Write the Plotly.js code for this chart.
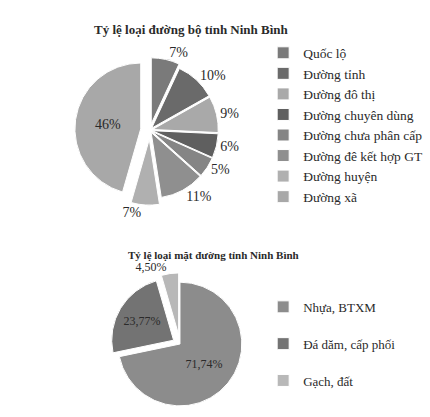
<!DOCTYPE html>
<html>
<head>
<meta charset="utf-8">
<script src="https://cdn.plot.ly/plotly-3.0.1.min.js"></script>
<style>html,body{margin:0;padding:0;background:#fff;}#chart{width:430px;height:417px;}</style>
</head>
<body>
<div id="chart"></div>
<script>
// Top chart: road types
const roadLabels = ["Quốc lộ", "Đường tỉnh", "Đường đô thị", "Đường chuyên dùng", "Đường chưa phân cấp", "Đường đê kết hợp GT", "Đường huyện", "Đường xã"];
const roadValues = [7, 10, 9, 6, 5, 11, 7, 46];
// Bottom chart: surface types
const surfaceLabels = ["Nhựa, BTXM", "Đá dăm, cấp phối", "Gạch, đất"];
const surfaceValues = [71.74, 23.77, 4.50];

const roadTitle = "Tỷ lệ loại đường bộ tỉnh Ninh Bình";
const surfaceTitle = "Tỷ lệ loại mặt đường tỉnh Ninh Bình";

const serif = "Liberation Serif, serif";

const roadPie = {
  type: "pie",
  labels: roadLabels,
  values: roadValues,
  sort: false,
  direction: "clockwise",
  rotation: 0,
  pull: [0.1, 0.04, 0.04, 0.04, 0.04, 0.04, 0.14, 0.14],
  marker: {colors: ["#7a7a7a", "#6a6a6a", "#a9a9a9", "#5f5f5f", "#858585", "#8f8f8f", "#b0b0b0", "#a8a8a8"],
           line: {color: "#ffffff", width: 1}},
  texttemplate: "%{value}%",
  textposition: ["outside","outside","outside","outside","outside","outside","outside","inside"],
  textfont: {family: serif, size: 14, color: "#2a2a2a"},
  outsidetextfont: {family: serif, size: 14, color: "#2a2a2a"},
  insidetextfont: {family: serif, size: 14, color: "#2a2a2a"},
  domain: {x: [0.174, 0.523], y: [0.508, 0.868]},
  legend: "legend",
  hoverinfo: "label+percent"
};

const surfacePie = {
  type: "pie",
  labels: surfaceLabels.map(s => s + "<br> "),
  values: surfaceValues,
  sort: false,
  direction: "clockwise",
  rotation: 0,
  pull: [0, 0.12, 0.15],
  marker: {colors: ["#8c8c8c", "#737373", "#b8b8b8"], line: {color: "#ffffff", width: 1}},
  texttemplate: "%{value:.2f}%",
  textposition: ["inside", "inside", "outside"],
  textfont: {family: serif, size: 12, color: "#2a2a2a"},
  insidetextfont: {family: serif, size: 12, color: "#2a2a2a"},
  outsidetextfont: {family: serif, size: 12, color: "#2a2a2a"},
  domain: {x: [0.253, 0.584], y: [0.0, 0.35]},
  legend: "legend2",
  hoverinfo: "label+percent"
};

const layout = {
  width: 430, height: 417,
  margin: {l: 0, r: 0, t: 0, b: 0, autoexpand: false},
  paper_bgcolor: "#fff",
  separators: ",.",
  font: {family: serif, color: "#2a2a2a"},
  showlegend: true,
  legend: {x: 0.612, y: 0.91, xanchor: "left", yanchor: "top",
           font: {family: serif, size: 13.5, color: "#2a2a2a"}, bgcolor: "rgba(0,0,0,0)"},
  legend2: {x: 0.612, y: 0.30, xanchor: "left", yanchor: "top", valign: "top",
            font: {family: serif, size: 13, color: "#2a2a2a"}, bgcolor: "rgba(0,0,0,0)"},
  annotations: [
    {text: "<b>" + roadTitle + "</b>", x: 0.445, y: 0.952, xref: "paper", yref: "paper",
     showarrow: false, font: {family: serif, size: 13, color: "#2a2a2a"}},
    {text: "<b>" + surfaceTitle + "</b>", x: 0.496, y: 0.389, xref: "paper", yref: "paper",
     showarrow: false, font: {family: serif, size: 11, color: "#2a2a2a"}}
  ]
};

Plotly.newPlot("chart", [roadPie, surfacePie], layout, {displayModeBar: false, staticPlot: true});
</script>
</body>
</html>
